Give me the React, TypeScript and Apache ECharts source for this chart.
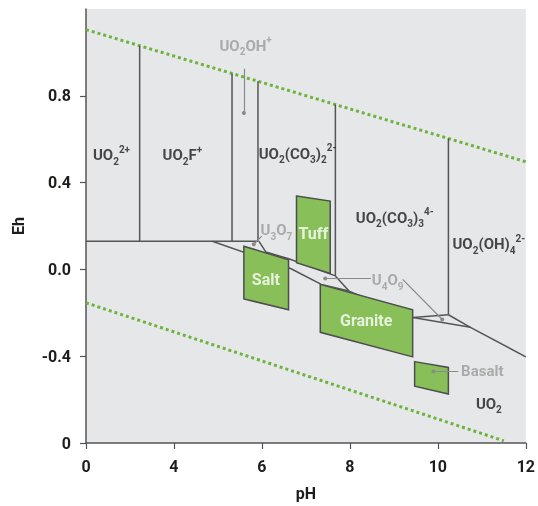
import React, { useEffect, useRef } from "react";
import * as echarts from "echarts";

// ---- axis ticks ----
const xTickValues = [2, 4, 6, 8, 10, 12];
const xTickLabels = ["0", "4", "6", "8", "10", "12"];
const yTickValues = [-0.8, -0.4, 0, 0.4, 0.8];
const yTickLabels = ["0", "-0.4", "0.0", "0.4", "0.8"];

// ---- water stability limits (pH, Eh) ----
const upperWater = [[2, 1.105], [12, 0.496]];
const lowerWater = [[2, -0.154], [11.5, -0.79]];

// ---- field boundaries (pH, Eh) ----
const boundaryH = [[2, 0.13], [5.91, 0.13]];
const boundaryV1 = [[3.22, 1.031], [3.22, 0.13]];
const boundaryV2 = [[5.32, 0.903], [5.32, 0.13]];
const boundaryV3 = [[5.91, 0.867], [5.91, 0.13]];
const boundaryV4 = [[7.67, 0.76], [7.67, -0.03]];
const boundaryV5 = [[10.24, 0.603], [10.24, -0.209]];
const boundaryLower = [[4.87, 0.13], [6.65, 0.004], [7.35, -0.069], [7.98, -0.1], [9.43, -0.222], [10.74, -0.267], [12, -0.403]];
const boundaryUpper = [[5.93, 0.13], [6.09, 0.08], [6.61, 0.049], [7.67, -0.03]];
const boundaryU4O9a = [[7.67, -0.03], [7.98, -0.1]];
const boundaryU4O9b = [[9.43, -0.222], [10.24, -0.209]];
const boundaryU4O9c = [[10.24, -0.209], [10.74, -0.267]];
const boundaries = [boundaryH, boundaryV1, boundaryV2, boundaryV3, boundaryV4, boundaryV5, boundaryLower, boundaryUpper, boundaryU4O9a, boundaryU4O9b, boundaryU4O9c];

// ---- rock environments (corners pH, Eh) ----
const saltBox = [[5.589, 0.107], [6.605, 0.044], [6.605, -0.186], [5.589, -0.136]];
const tuffBox = [[6.786, 0.338], [7.553, 0.315], [7.553, -0.019], [6.786, 0.031]];
const graniteBox = [[7.327, -0.069], [9.427, -0.186], [9.427, -0.403], [7.327, -0.29]];
const basaltBox = [[9.472, -0.425], [10.239, -0.452], [10.239, -0.574], [9.472, -0.538]];
const boxes = [saltBox, tuffBox, graniteBox, basaltBox];

// ---- labels ----
const labelTexts = [
  "{n|UO}{s|2}{p|2+}",
  "{n|UO}{s|2}{n|F}{p|+}",
  "{gn|UO}{gs|2}{gn|OH}{gp|+}",
  "{n|UO}{s|2}{n|(CO}{s|3}{n|)}{s|2}{p|2-}",
  "{n|UO}{s|2}{n|(CO}{s|3}{n|)}{s|3}{p|4-}",
  "{n|UO}{s|2}{n|(OH)}{s|4}{p|2-}",
  "{gn|U}{gs|3}{gn|O}{gs|7}",
  "{w|Tuff}",
  "{w|Salt}",
  "{gn|U}{gs|4}{gn|O}{gs|9}",
  "{w|Granite}",
  "{gn|Basalt}",
  "{n|UO}{s|2}",
];
const labelPH = [2.58, 4.19, 5.63, 6.81, 9.02, 11.16, 6.33, 7.17, 6.09, 8.86, 8.37, 11.01, 11.16];
const labelEh = [0.527, 0.527, 1.03, 0.532, 0.238, 0.116, 0.18, 0.166, -0.046, -0.051, -0.236, -0.47, -0.619];

// ---- pointer lines ----
const pointers = [
  [[5.59, 0.925], [5.59, 0.721]],
  [[5.995, 0.153], [5.815, 0.116]],
  [[8.48, -0.042], [7.44, -0.042]],
  [[9.2, -0.046], [10.1, -0.231]],
  [[10.465, -0.47], [9.9, -0.47]],
];

const FONT = "Roboto, sans-serif";
const DARK = "#1d1d1b";
const GRAY = "#9b9b9b";
const LINE = "#555557";

function tickLabel(values: number[], labels: string[]) {
  return (v: number) => {
    const i = values.findIndex((t) => Math.abs(t - v) < 1e-6);
    return i >= 0 ? labels[i] : "";
  };
}

export default function App() {
  const ref = useRef<HTMLDivElement>(null);
  useEffect(() => {
    if (!ref.current) return;
    const chart = echarts.init(ref.current, null, { renderer: "svg" });
    const rich = {
      n: { fontSize: 15, fontWeight: "bold", color: DARK, fontFamily: FONT, lineHeight: 22 },
      s: { fontSize: 10, fontWeight: "bold", color: DARK, fontFamily: FONT, verticalAlign: "bottom", lineHeight: 12 },
      p: { fontSize: 10, fontWeight: "bold", color: DARK, fontFamily: FONT, verticalAlign: "top", lineHeight: 12 },
      gn: { fontSize: 15, fontWeight: "bold", color: GRAY, fontFamily: FONT, lineHeight: 22 },
      gs: { fontSize: 10, fontWeight: "bold", color: GRAY, fontFamily: FONT, verticalAlign: "bottom", lineHeight: 12 },
      gp: { fontSize: 10, fontWeight: "bold", color: GRAY, fontFamily: FONT, verticalAlign: "top", lineHeight: 12 },
      w: { fontSize: 16, fontWeight: "bold", color: "#ffffff", fontFamily: FONT, lineHeight: 22 },
    };
    const lineSeries = boundaries.map((b) => ({
      type: "line",
      data: b,
      symbol: "none",
      z: 2,
      silent: true,
      lineStyle: { color: LINE, width: 1.5 },
    }));
    const waterSeries = [upperWater, lowerWater].map((w) => ({
      type: "line",
      data: w,
      symbol: "none",
      z: 2,
      silent: true,
      lineStyle: { color: "#6db33f", width: 3, type: [3, 3], cap: "butt" },
    }));
    chart.setOption({
      animation: false,
      grid: {
        left: 86, right: 9, top: 9, bottom: 62,
        show: true, backgroundColor: "#e6e7e8", borderWidth: 0,
      },
      xAxis: {
        type: "value", min: 2, max: 12, interval: 2,
        name: "pH", nameLocation: "middle", nameGap: 42,
        nameTextStyle: { fontSize: 16, fontWeight: "bold", color: DARK, fontFamily: FONT },
        axisLine: { show: true, onZero: false, lineStyle: { color: LINE, width: 1.5 } },
        axisTick: { show: true, length: 6, lineStyle: { color: LINE, width: 1.2 } },
        axisLabel: { margin: 15, fontSize: 16, fontWeight: "bold", color: DARK, fontFamily: FONT, formatter: tickLabel(xTickValues, xTickLabels) },
        splitLine: { show: false },
      },
      yAxis: {
        type: "value", min: -0.8, max: 1.2, interval: 0.4,
        name: "Eh", nameLocation: "middle", nameGap: 60,
        nameTextStyle: { fontSize: 16, fontWeight: "bold", color: DARK, fontFamily: FONT },
        axisLine: { show: true, onZero: false, lineStyle: { color: LINE, width: 1.5 } },
        axisTick: { show: true, length: 6, customValues: yTickValues, lineStyle: { color: LINE, width: 1.2 } },
        axisLabel: { margin: 15, fontSize: 16, fontWeight: "bold", color: DARK, fontFamily: FONT, customValues: yTickValues, formatter: tickLabel(yTickValues, yTickLabels) },
        splitLine: { show: false },
      },
      series: [
        ...waterSeries,
        ...lineSeries,
        {
          type: "custom",
          z: 3,
          silent: true,
          data: boxes.map((b) => b[0]),
          renderItem: (params: any, api: any) => {
            const pts = boxes[params.dataIndex].map((p) => api.coord(p));
            return {
              type: "polygon",
              shape: { points: pts },
              style: { fill: "#88bf58", stroke: "#4e4e50", lineWidth: 1.5 },
            };
          },
        },
        {
          type: "lines",
          coordinateSystem: "cartesian2d",
          z: 4,
          silent: true,
          symbol: ["none", "circle"],
          symbolSize: 4,
          lineStyle: { color: "#8a8a8a", width: 1.2, opacity: 1 },
          data: pointers.map((c) => ({ coords: c })),
        },
        {
          type: "scatter",
          z: 5,
          silent: true,
          symbolSize: 1,
          itemStyle: { color: "rgba(0,0,0,0)" },
          data: labelPH.map((x, i) => ({
            value: [x, labelEh[i]],
            label: { formatter: labelTexts[i] },
          })),
          label: { show: true, position: "inside", rich },
        },
      ],
    });
    return () => chart.dispose();
  }, []);
  return <div ref={ref} style={{ position: "fixed", left: 0, top: 0, width: 538, height: 506 }} />;
}
